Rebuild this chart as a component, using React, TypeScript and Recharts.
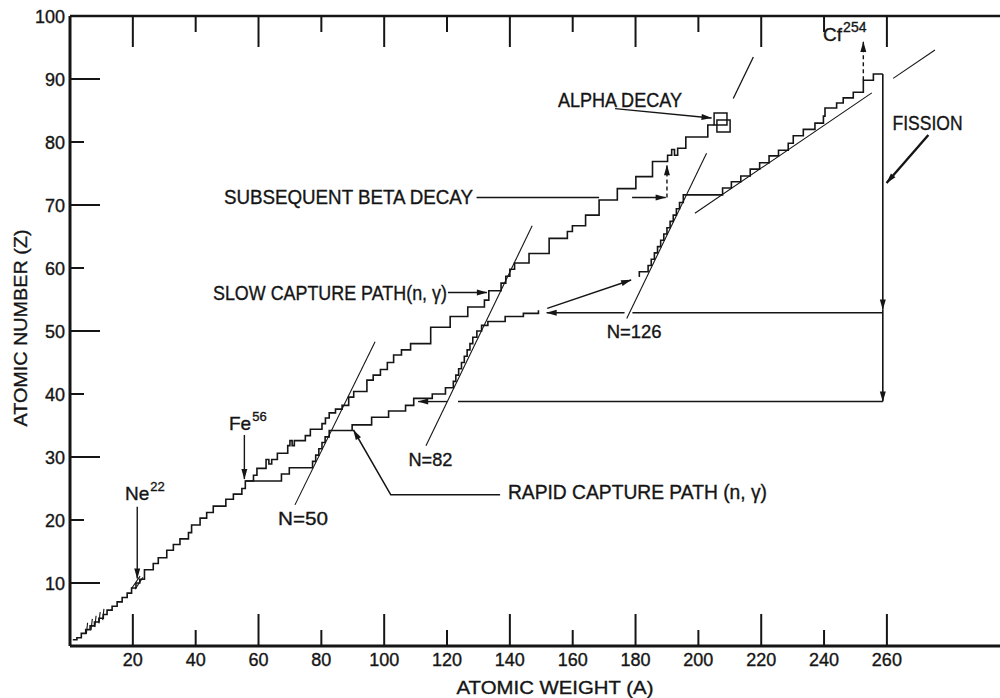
import React from 'react';
import { ComposedChart, Line, XAxis, YAxis, ReferenceDot, ReferenceArea } from 'recharts';

const INK = '#151515';
const FONT = '"Liberation Sans", Arial, sans-serif';

type Pt = { a: number; z: number };
const toPts = (pairs: number[][]): Pt[] => pairs.map(([a, z]) => ({ a, z }));

// ---- axis ticks ----
const xTicks = [20, 40, 60, 80, 100, 120, 140, 160, 180, 200, 220, 240, 260];
const yTicks = [10, 20, 30, 40, 50, 60, 70, 80, 90, 100];
const rightTicks = [11, 21, 31, 41, 51, 61, 71, 81, 91];

// ---- slow (s-process) capture path: [A, Z] at the start of each horizontal run ----
const slowPath = toPts([
  [0.9, 1.0], [2.2, 1.3], [3.6, 2.0], [5.0, 2.6], [6.4, 3.2], [7.8, 3.8], [9.2, 4.4], [10.6, 5.0],
  [11.8, 5.7], [13.4, 6.3], [15.0, 7.0], [16.6, 7.7], [18.2, 8.4], [19.6, 9.2], [21.0, 10.0], [22.2, 10.6],
  [23.7, 12.1], [26.5, 13.1], [28.1, 14.0], [30.8, 15.2], [32.9, 16.1], [35.0, 17.0], [37.7, 18.0],
  [38.7, 19.2], [41.4, 20.3], [43.5, 21.2], [45.6, 22.2], [49.6, 23.3], [52.0, 24.1], [54.7, 25.0],
  [55.8, 26.2], [58.4, 27.1], [59.5, 28.2], [62.4, 29.6], [63.3, 28.9], [64.2, 29.6], [66.0, 30.6],
  [69.3, 31.8], [70.0, 32.6], [70.7, 31.8], [71.4, 32.6], [74.9, 33.4], [76.5, 34.4], [80.2, 35.3],
  [81.3, 36.2], [82.5, 37.0], [84.5, 37.6], [86.6, 38.2], [88.7, 39.5], [90.3, 40.4], [94.5, 42.2],
  [96.5, 43.0], [98.8, 43.9], [101.0, 45.0], [103.0, 46.2], [105.5, 47.0], [108.4, 48.0], [114.8, 50.6],
  [121.0, 52.3], [126.6, 53.8], [131.9, 54.9], [133.3, 56.4], [137.2, 57.6], [138.7, 58.7], [140.0, 59.8],
  [141.5, 60.8], [146.1, 62.3], [152.5, 64.7], [158.3, 65.8], [159.9, 66.7], [164.1, 68.4], [168.4, 70.8],
  [174.2, 72.6], [180.1, 74.5], [185.4, 76.9], [190.2, 77.9], [191.5, 78.8], [192.4, 77.9], [193.4, 79.0],
  [196.0, 80.8], [203.0, 82.7], [205.0, 82.7],
]);

// ---- rapid (r-process) capture path ----
const rapidPathLow = toPts([
  [55.8, 26.2], [67.3, 27.3], [69.8, 28.3], [77.2, 29.3], [78.2, 30.3], [79.2, 31.3], [80.2, 32.3],
  [81.2, 33.2], [82.5, 34.2], [89.8, 35.1], [96.0, 36.3], [101.4, 37.3], [106.8, 38.2], [109.4, 39.3],
  [115.3, 40.0], [119.5, 41.0], [122.0, 42.0], [122.8, 43.0], [123.7, 44.0], [124.6, 45.0], [125.5, 46.0],
  [126.4, 47.0], [127.3, 48.0], [128.2, 49.0], [129.5, 50.0], [131.0, 50.9], [133.0, 51.5], [138.5, 52.3],
  [144.3, 52.8], [149.1, 53.3],
]);
const rapidPathHigh = toPts([
  [181.0, 58.7], [181.2, 59.4], [184.0, 60.4], [185.0, 61.4], [186.0, 62.4], [187.0, 63.4], [188.0, 64.4],
  [189.0, 65.4], [190.0, 66.4], [191.0, 67.4], [192.0, 68.4], [193.0, 69.4], [194.0, 70.4], [195.2, 71.6],
  [207.7, 72.7], [210.5, 73.7], [213.5, 74.6], [216.5, 75.7], [219.5, 76.7], [222.5, 77.8], [225.5, 78.7],
  [228.6, 79.8], [230.2, 81.0], [233.4, 82.0], [237.1, 83.0], [239.8, 84.1], [240.3, 85.4], [244.0, 86.2],
  [246.1, 87.0], [249.3, 87.9], [252.5, 89.8], [255.7, 90.8], [258.7, 90.8],
]);

// ---- fission return lines ----
const fissionDropUpper = toPts([[258.7, 90.8], [258.7, 53.4]]);
const fissionDropLower = toPts([[258.7, 53.4], [258.7, 38.8]]);
const fissionHighRight = toPts([[258.7, 52.9], [179.0, 52.9]]);
const fissionHighLeft = toPts([[176.5, 52.9], [151.7, 52.9]]);
const fissionLowRight = toPts([[258.7, 38.8], [123.5, 38.8]]);
const fissionLowLeft = toPts([[120.0, 38.8], [110.8, 38.8]]);
const rapidBridge = toPts([[151.9, 53.6], [178.6, 58.1]]);

// ---- magic neutron number lines and upper boundary ----
const magicN50 = toPts([[71.6, 22.4], [97.1, 48.3]]);
const magicN82 = toPts([[113.3, 31.8], [147.1, 66.7]]);
const magicN126 = toPts([[177.2, 52.0], [202.6, 78.2]]);
const magicN126Upper = toPts([[211.1, 86.9], [217.5, 93.5]]);
const heavyEdge = toPts([[198.9, 68.7], [255.2, 87.8]]);
const heavyEdgeUpper = toPts([[262.0, 90.1], [275.3, 94.6]]);

// ---- annotation arrows ----
const betaLine = toPts([[129.4, 71.2], [168.4, 71.2]]);
const betaArrow = toPts([[178.9, 71.2], [189.6, 71.2]]);
const betaDecayUp = toPts([[190.0, 71.2], [190.0, 76.3]]);
const cfDecayUp = toPts([[252.5, 89.8], [252.5, 95.9]]);
const slowArrow = toPts([[120.3, 56.1], [132.7, 56.1]]);
const alphaArrow = toPts([[173.5, 85.3], [204.2, 83.8]]);
const fissionArrow = toPts([[273.2, 81.1], [259.9, 73.5]]);
const fe56Arrow = toPts([[55.5, 33.5], [55.5, 26.5]]);
const ne22Arrow = toPts([[21.4, 22.1], [21.4, 10.7]]);
const rapidConnector = toPts([[136.9, 24.0], [102.1, 24.0], [90.2, 34.3]]);

// ---- small hatch marks on the light-element path ----
const hatchMarks = [
  toPts([[19.7, 9.2], [22.3, 11.1]]),
  toPts([[20.7, 9.0], [23.2, 10.9]]),
  toPts([[5.2, 1.9], [5.6, 3.7]]),
  toPts([[6.7, 2.5], [7.1, 4.3]]),
  toPts([[7.9, 3.0], [8.3, 4.8]]),
  toPts([[9.2, 3.6], [9.6, 5.4]]),
  toPts([[10.4, 4.1], [10.8, 5.9]]),
];

// ---- alpha-decay boxes ----
const alphaBoxes = [
  { a1: 205.0, a2: 209.1, z1: 82.7, z2: 84.6 },
  { a1: 205.9, a2: 210.1, z1: 81.6, z2: 83.5 },
];

// ---------- rendering helpers ----------
type LOpts = { step?: boolean; w?: number; dash?: string; arrow?: boolean };
const seg = (key: string, data: Pt[], o: LOpts = {}) => (
  <Line
    key={key}
    data={data}
    dataKey="z"
    type={o.step ? 'stepAfter' : 'linear'}
    stroke={INK}
    strokeWidth={o.w ?? 1.4}
    strokeDasharray={o.dash}
    markerEnd={o.arrow ? 'url(#arrowHead)' : undefined}
    dot={false}
    activeDot={false}
    legendType="none"
    isAnimationActive={false}
  />
);

const TXT = { fontFamily: FONT, fill: INK, stroke: INK, strokeWidth: 0.35 };

const isLongX = (p: any) => {
  const v = Number(p.payload?.value);
  const i = xTicks.indexOf(Math.round(v));
  return (i >= 0 ? i : p.index) % 2 === 0;
};

const BottomTick = (p: any) => {
  const v = p.payload.value;
  const len = isLongX(p) ? 32 : 16;
  return (
    <g>
      <line x1={p.x} x2={p.x} y1={p.y} y2={p.y - len} stroke={INK} strokeWidth={2} />
      <text x={p.x} y={p.y + 20} textAnchor="middle" fontSize={18} {...TXT}>{v}</text>
    </g>
  );
};
const TopTick = (p: any) => {
  const len = isLongX(p) ? 31 : 16;
  return <line x1={p.x} x2={p.x} y1={p.y} y2={p.y + len} stroke={INK} strokeWidth={2} />;
};
const LeftTick = (p: any) => {
  const v = Number(p.payload.value);
  const long = Math.round(v / 10) % 2 === 1;
  const len = v === 100 ? 0 : long ? 30 : 14;
  return (
    <g>
      {len > 0 && <line x1={p.x} x2={p.x + len} y1={p.y} y2={p.y} stroke={INK} strokeWidth={2} />}
      <text x={p.x - 5} y={p.y + 6.5} textAnchor="end" fontSize={18} {...TXT}>{v}</text>
    </g>
  );
};
const RightTick = (p: any) => {
  const v = Number(p.payload.value);
  const long = Math.round((v - 1) / 10) % 2 === 1;
  return <line x1={p.x - (long ? 24 : 8)} x2={p.x} y1={p.y} y2={p.y} stroke={INK} strokeWidth={2} />;
};

const XTitle = (props: any) => {
  const vb = props.viewBox;
  return (
    <text x={vb.x + vb.width / 2 + 20} y={vb.y + 48} textAnchor="middle" fontSize={19} {...TXT}
      textLength={197} lengthAdjust="spacingAndGlyphs">ATOMIC WEIGHT (A)</text>
  );
};
const YTitle = (props: any) => {
  const vb = props.viewBox;
  const cx = vb.x + 27;
  const cy = vb.y + vb.height / 2 - 3;
  return (
    <text x={cx} y={cy} transform={`rotate(-90 ${cx} ${cy})`} textAnchor="middle" fontSize={19} {...TXT}
      textLength={197} lengthAdjust="spacingAndGlyphs">ATOMIC NUMBER (Z)</text>
  );
};

const label = (key: string, a: number, z: number, text: string, width?: number, size = 18) => (
  <ReferenceDot
    key={key}
    x={a}
    y={z}
    r={0}
    ifOverflow="visible"
    shape={(p: any) => (
      <text x={p.cx} y={p.cy} fontSize={size} {...TXT}
        textLength={width} lengthAdjust={width ? 'spacingAndGlyphs' : undefined}>{text}</text>
    )}
  />
);
const supLabel = (key: string, a: number, z: number, base: string, sup: string, size = 19, supSize = 13) => (
  <ReferenceDot
    key={key}
    x={a}
    y={z}
    r={0}
    ifOverflow="visible"
    shape={(p: any) => (
      <text x={p.cx} y={p.cy} fontSize={size} {...TXT}>
        <tspan>{base}</tspan>
        <tspan dx={1} dy={-9} fontSize={supSize}>{sup}</tspan>
      </text>
    )}
  />
);

export default function App() {
  return (
    <div style={{ position: 'absolute', left: 0, top: 0, width: 1000, height: 698, background: '#fff' }}>
      <ComposedChart width={1000} height={698} margin={{ top: 0, right: 0, bottom: 0, left: 0 }}>
        <defs>
          <marker id="arrowHead" viewBox="0 0 12 8" refX="11.5" refY="4" markerWidth="12" markerHeight="7"
            markerUnits="userSpaceOnUse" orient="auto">
            <path d="M0,0.6 L12,4 L0,7.4 Z" fill={INK} />
          </marker>
        </defs>
        <XAxis xAxisId={0} type="number" dataKey="a" domain={[0, 296]} ticks={xTicks} interval={0}
          orientation="bottom" height={52} tickSize={0} tickMargin={0} tickLine={false}
          axisLine={{ stroke: INK, strokeWidth: 3 }} tick={BottomTick} allowDataOverflow label={{ content: XTitle }} />
        <XAxis xAxisId="top" type="number" dataKey="a" domain={[0, 296]} ticks={xTicks} interval={0}
          orientation="top" height={16} tickSize={0} tickMargin={0} tickLine={false}
          axisLine={{ stroke: INK, strokeWidth: 2.5 }} tick={TopTick} allowDataOverflow />
        <YAxis yAxisId={0} type="number" domain={[0, 100]} ticks={yTicks} interval={0} orientation="left"
          width={70} tickSize={0} tickMargin={0} tickLine={false} axisLine={{ stroke: INK, strokeWidth: 3 }}
          tick={LeftTick} allowDataOverflow label={{ content: YTitle }} />
        <YAxis yAxisId="right" type="number" domain={[0, 100]} ticks={rightTicks} interval={0} orientation="right"
          width={0} tickSize={0} tickMargin={0} tickLine={false} axisLine={false} tick={RightTick} allowDataOverflow />

        {/* main nucleosynthesis paths */}
        {seg('slow', slowPath, { step: true, w: 1.6 })}
        {seg('rapidLow', rapidPathLow, { step: true, w: 1.6 })}
        {seg('rapidHigh', rapidPathHigh, { step: true, w: 1.6 })}

        {/* magic numbers */}
        {seg('n50', magicN50, { w: 1.1 })}
        {seg('n82', magicN82, { w: 1.1 })}
        {seg('n126', magicN126, { w: 1.1 })}
        {seg('n126u', magicN126Upper, { w: 1.3 })}
        {seg('edge', heavyEdge, { w: 1.1 })}
        {seg('edgeU', heavyEdgeUpper, { w: 1.1 })}

        {/* fission */}
        {seg('fdU', fissionDropUpper, { w: 1.6, arrow: true })}
        {seg('fdL', fissionDropLower, { w: 1.6, arrow: true })}
        {seg('fhR', fissionHighRight, { w: 1.4 })}
        {seg('fhL', fissionHighLeft, { w: 1.4, arrow: true })}
        {seg('flR', fissionLowRight, { w: 1.4 })}
        {seg('flL', fissionLowLeft, { w: 1.4, arrow: true })}
        {seg('bridge', rapidBridge, { w: 1.4, arrow: true })}

        {/* annotation arrows */}
        {seg('beta', betaLine, { w: 1.4 })}
        {seg('betaA', betaArrow, { w: 1.4, arrow: true })}
        {seg('betaUp', betaDecayUp, { w: 1.4, dash: '4 3', arrow: true })}
        {seg('cfUp', cfDecayUp, { w: 1.4, dash: '4 3', arrow: true })}
        {seg('slowA', slowArrow, { w: 1.4, arrow: true })}
        {seg('alphaA', alphaArrow, { w: 1.4, arrow: true })}
        {seg('fissA', fissionArrow, { w: 2.4, arrow: true })}
        {seg('feA', fe56Arrow, { w: 1.4, arrow: true })}
        {seg('neA', ne22Arrow, { w: 1.4, arrow: true })}
        {seg('rapidC', rapidConnector, { w: 1.6, arrow: true })}
        {hatchMarks.map((h, i) => seg(`hatch${i}`, h, { w: 1.1 }))}

        {alphaBoxes.map((b, i) => (
          <ReferenceArea key={`box${i}`} x1={b.a1} x2={b.a2} y1={b.z1} y2={b.z2} fill="none" fillOpacity={0}
            stroke={INK} strokeWidth={1.5} ifOverflow="visible" />
        ))}

        {/* text annotations */}
        {label('tBeta', 49.0, 70.2, 'SUBSEQUENT BETA DECAY', 249, 20)}
        {label('tSlow', 45.5, 55.0, 'SLOW CAPTURE PATH(n, γ)', 234, 20)}
        {label('tRapid', 139.4, 23.3, 'RAPID CAPTURE PATH (n, γ)', 259, 20)}
        {label('tAlpha', 155.3, 85.6, 'ALPHA DECAY', 124, 20)}
        {label('tFission', 261.8, 81.9, 'FISSION', 70, 20)}
        {label('tN50', 66.2, 19.2, 'N=50', 50, 19)}
        {label('tN82', 107.7, 28.5, 'N=82', 44, 19)}
        {label('tN126', 170.8, 48.9, 'N=126', 55, 19)}
        {supLabel('tFe', 50.6, 34.3, 'Fe', '56')}
        {supLabel('tNe', 17.5, 23.2, 'Ne', '22')}
        {supLabel('tCf', 239.7, 96.0, 'Cf', '254', 19, 14)}
      </ComposedChart>
    </div>
  );
}
